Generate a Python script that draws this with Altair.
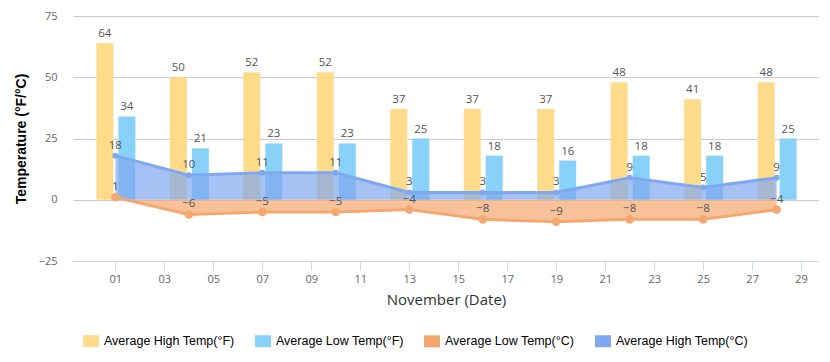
import altair as alt
import pandas as pd

days = [1, 4, 7, 10, 13, 16, 19, 22, 25, 28]
high_f = [64, 50, 52, 52, 37, 37, 37, 48, 41, 48]
low_f = [34, 21, 23, 23, 25, 18, 16, 18, 18, 25]
low_c = [1, -6, -5, -5, -4, -8, -9, -8, -8, -4]
high_c = [18, 10, 11, 11, 3, 3, 3, 9, 5, 9]
series_names = ["Average High Temp(°F)", "Average Low Temp(°F)",
                "Average Low Temp(°C)", "Average High Temp(°C)"]
series_colors = ["#FDDB8B", "#88D1F9", "#F4A86F", "#80A8F0"]
x_ticks = list(range(1, 30, 2))
y_ticks = [-25, 0, 25, 50, 75]

rows = []
for name, vals in zip(series_names, [high_f, low_f, low_c, high_c]):
    for d, v in zip(days, vals):
        rows.append({"day": d, "series": name, "value": v})
df = pd.DataFrame(rows)

x = alt.X("day:Q",
          scale=alt.Scale(domain=[-0.73, 29.73], nice=False, zero=False, padding=0),
          axis=alt.Axis(values=x_ticks,
                        labelExpr="datum.value < 10 ? '0' + datum.value : '' + datum.value",
                        title="November (Date)", grid=False,
                        domainColor="#ccd6eb", tickColor="#ccd6eb", tickSize=9,
                        labelPadding=3, labelFont="Open Sans", labelFontSize=11,
                        labelColor="#666666", titleFont="Open Sans", titleFontSize=15,
                        titleColor="#333333", titleFontWeight="normal", titlePadding=8))
y = alt.Y("value:Q",
          scale=alt.Scale(domain=[-25, 75], nice=False, padding=0),
          axis=alt.Axis(values=y_ticks, title="Temperature (°F/°C)", domain=False,
                        ticks=False, labelPadding=16, gridColor="#cccccc",
                        labelFont="Open Sans", labelFontSize=11, labelColor="#666666",
                        titleFont="Liberation Sans", titleFontWeight="bold",
                        titleFontSize=14, titleColor="#000000", titlePadding=10))
color = alt.Color("series:N",
                  scale=alt.Scale(domain=series_names, range=series_colors),
                  legend=alt.Legend(title=None, orient="none", legendX=10, legendY=317,
                                    direction="horizontal",
                                    symbolType="M-1,-0.75H1V0.75H-1Z", symbolSize=256,
                                    symbolStrokeWidth=0, symbolOpacity=1,
                                    labelFont="Liberation Sans", labelFontSize=12.5,
                                    labelColor="#000000", labelOffset=5,
                                    columnPadding=20, labelLimit=300))

base = alt.Chart(df)
label_style = dict(font="Open Sans", fontSize=11.5, color="#555555")

bars_hf = base.transform_filter(alt.datum.series == series_names[0]).mark_bar(
    width=17, xOffset=-10.5).encode(x=x, y=y, color=color)
bars_lf = base.transform_filter(alt.datum.series == series_names[1]).mark_bar(
    width=17, xOffset=11.5).encode(x=x, y=y, color=color)
txt_hf = base.transform_filter(alt.datum.series == series_names[0]).mark_text(
    xOffset=-10.5, dy=-4, baseline="bottom", **label_style).encode(x=x, y=y, text="value:Q")
txt_lf = base.transform_filter(alt.datum.series == series_names[1]).mark_text(
    xOffset=11.5, dy=-4, baseline="bottom", **label_style).encode(x=x, y=y, text="value:Q")

area_lc = base.transform_filter(alt.datum.series == series_names[2]).mark_area(
    fillOpacity=0.7).encode(x=x, y=y, y2=alt.datum(0), color=color)
area_hc = base.transform_filter(alt.datum.series == series_names[3]).mark_area(
    fillOpacity=0.7).encode(x=x, y=y, y2=alt.datum(0), color=color)
line_lc = base.transform_filter(alt.datum.series == series_names[2]).mark_line(
    strokeWidth=3).encode(x=x, y=y, color=color)
line_hc = base.transform_filter(alt.datum.series == series_names[3]).mark_line(
    strokeWidth=3).encode(x=x, y=y, color=color)
pts_lc = base.transform_filter(alt.datum.series == series_names[2]).mark_point(
    filled=True, size=75, opacity=1).encode(x=x, y=y, color=color)
pts_hc = base.transform_filter(alt.datum.series == series_names[3]).mark_point(
    filled=True, size=35, opacity=1).encode(x=x, y=y, color=color)
txt_c = base.transform_filter(
    (alt.datum.series == series_names[2]) | (alt.datum.series == series_names[3])
).mark_text(dy=-10, baseline="middle", **label_style).encode(x=x, y=y, text="value:Q")

chart = alt.layer(
    bars_hf, bars_lf, area_lc, area_hc, line_lc, line_hc, pts_lc, pts_hc,
    txt_hf, txt_lf, txt_c
).properties(
    width=746, height=245,
    autosize="none",
    padding={"left": 65, "top": 8, "right": 0, "bottom": 90},
).configure_view(stroke=None)

chart.save("out.html", embed_options={"renderer": "svg", "actions": False})
